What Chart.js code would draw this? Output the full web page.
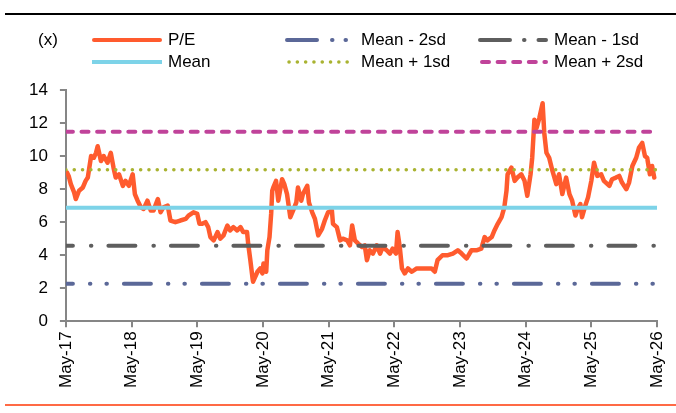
<!DOCTYPE html>
<html><head><meta charset="utf-8">
<script src="https://cdn.jsdelivr.net/npm/chart.js@4.4.1/dist/chart.umd.min.js"></script>
<style>
body{margin:0;background:#fff;font-family:"Liberation Sans",Arial,sans-serif;}
#wrap{position:relative;width:676px;height:413px;overflow:hidden;background:#fff;}
#c{position:absolute;left:0;top:0;}
.rule{position:absolute;left:5px;width:671px;}
.leg{position:absolute;font-size:17px;line-height:20px;color:#000;white-space:nowrap;}
.sw{position:absolute;}
</style></head>
<body>
<div id="wrap">
<canvas id="c" width="676" height="413"></canvas>
<div class="rule" style="top:13px;height:2px;background:#000;"></div>
<div class="rule" style="top:404px;height:2px;background:#FF6A45;"></div>
<div class="leg" style="left:38px;top:30px;">(x)</div>
<div id="legend"></div>
</div>
<script>
// ---- data ----
const tickLabels = ['May-17','May-18','May-19','May-20','May-21','May-22','May-23','May-24','May-25','May-26'];
const yTicks = [0, 2, 4, 6, 8, 10, 12, 14];
// months since May-17
const months = [0.2,0.5,0.9,1.5,1.8,2.4,3.1,3.6,4.0,4.6,5.1,5.5,5.8,6.4,6.9,7.6,8.2,8.7,9.1,9.7,10.4,10.9,11.5,12.2,12.6,13.1,13.7,14.2,14.9,15.5,16.0,16.8,17.3,17.8,18.6,19.1,20.0,20.9,21.9,22.4,23.3,24.0,24.4,24.9,25.5,26.0,26.4,27.0,27.7,28.2,28.8,29.5,30.0,30.6,31.3,31.9,32.4,33.1,33.3,33.7,34.1,34.2,35.0,35.5,35.9,36.1,36.6,36.8,37.2,37.5,37.7,37.9,38.4,38.8,39.5,39.9,40.4,41.0,41.5,42.1,42.4,43.0,43.3,44.1,44.4,45.0,45.5,46.1,46.8,47.3,47.9,48.6,48.8,49.5,50.1,50.6,51.4,51.9,52.3,52.8,53.4,54.1,54.6,55.0,55.5,56.1,56.8,57.4,57.9,58.6,59.2,59.7,60.3,60.6,61.0,61.4,61.9,62.5,63.2,64.1,65.0,65.9,66.8,67.4,67.9,68.8,69.8,70.7,71.6,72.3,73.2,74.1,75.0,75.9,76.5,77.0,77.8,78.3,78.9,79.6,80.1,80.5,80.7,81.4,82.0,82.5,83.2,83.8,84.3,84.9,85.2,85.6,86.0,86.5,87.1,87.4,87.8,88.3,88.9,89.6,90.1,90.7,91.4,92.0,92.5,93.1,93.5,94.0,94.3,94.9,95.4,96.0,96.5,97.1,97.8,98.3,99.3,99.8,100.5,101.1,101.6,102.4,102.9,103.5,104.2,104.7,105.3,105.8,106.2,106.7,107.1,107.5];
const pe = [9.0,8.8,8.3,7.8,7.4,7.9,8.1,8.5,8.7,10.0,9.9,10.2,10.6,9.7,10.0,9.6,10.2,9.3,8.7,8.9,8.2,8.5,8.2,8.9,7.7,7.3,6.9,6.8,7.3,6.7,6.7,7.4,6.6,6.9,7.0,6.1,6.0,6.1,6.2,6.4,6.6,6.5,5.9,5.9,6.0,5.7,5.1,4.9,5.4,5.0,5.2,5.8,5.5,5.7,5.5,5.7,5.4,5.4,4.7,3.7,2.6,2.4,3.0,3.2,2.9,3.5,3.0,4.3,5.1,6.5,7.9,8.1,8.5,7.3,8.6,8.3,7.7,6.3,6.7,7.2,8.1,7.3,7.7,8.2,7.2,6.6,6.2,5.2,5.6,6.1,6.6,6.7,5.9,5.7,4.9,5.0,4.9,4.6,5.8,4.9,4.7,4.5,4.6,3.7,4.3,4.1,4.6,4.1,4.5,4.3,4.1,4.4,4.1,5.4,4.5,3.2,2.9,3.2,3.0,3.2,3.2,3.2,3.2,3.0,3.7,4.0,4.0,4.1,4.3,4.1,3.8,4.3,4.3,4.4,5.1,4.9,5.1,5.5,5.9,6.3,6.9,7.9,8.9,9.3,8.5,8.7,8.9,8.5,7.6,8.9,9.9,12.2,11.7,12.3,13.2,11.4,10.2,9.9,9.1,8.3,8.9,7.7,8.7,7.7,7.3,6.4,6.8,7.1,6.3,7.0,7.5,8.5,9.6,8.8,8.9,8.5,8.2,8.6,8.7,8.8,8.4,8.0,8.4,9.4,9.9,10.5,10.8,10.0,9.9,8.9,9.4,8.7];
const bandLabels = ['Mean - 2sd','Mean - 1sd','Mean','Mean + 1sd','Mean + 2sd'];
const bandValues = [2.28, 4.58, 6.88, 9.18, 11.48];
const xRange = [0, 108];

// ---- styles ----
const peStyle = {label:'P/E', color:'#FF5B2E', width:4.5, dash:[], cap:'round'};
const bandStyles = [
  {color:'#5B6898', width:4, dash:[27,17,0.5,16,0.5,17], offset:20, cap:'round'},
  {color:'#5E5E5E', width:4, dash:[27,18,0.5,17], offset:20, cap:'round'},
  {color:'#7DD3E8', width:4, dash:[], offset:0, cap:'butt'},
  {color:'#A9B331', width:3.5, dash:[0.1,8.2], offset:0, cap:'round'},
  {color:'#C0439A', width:4, dash:[7,8.6], offset:0, cap:'round'}
];

const datasets = bandLabels.map((lab,i)=>({
  label: lab,
  data: xRange.map(x=>({x:x, y:bandValues[i]})),
  borderColor: bandStyles[i].color,
  borderWidth: bandStyles[i].width,
  borderDash: bandStyles[i].dash,
  borderDashOffset: bandStyles[i].offset,
  borderCapStyle: bandStyles[i].cap,
  pointRadius: 0, fill:false
}));
datasets.push({
  label: peStyle.label,
  data: months.map((m,i)=>({x:m, y:pe[i]})),
  borderColor: peStyle.color,
  borderWidth: peStyle.width,
  borderJoinStyle: 'round',
  borderCapStyle: 'round',
  pointRadius: 0, fill:false, tension:0
});

const axisCol = '#868686';
const tickFont = {family:'"Liberation Sans", Arial, sans-serif', size:17};
new Chart(document.getElementById('c'), {
  type:'line',
  data:{datasets},
  options:{
    responsive:false, animation:false, devicePixelRatio:1,
    layout:{padding:{left:17, right:19, top:90, bottom:21}},
    plugins:{legend:{display:false}, tooltip:{enabled:false}},
    scales:{
      x:{type:'linear', min:xRange[0], max:xRange[1],
         afterFit:(s)=>{s.paddingRight=0; s.paddingLeft=0;},
         border:{display:true,color:axisCol,width:2},
         grid:{drawOnChartArea:false, drawTicks:true, tickLength:6, color:axisCol, lineWidth:2},
         ticks:{stepSize:12, autoSkip:false, maxRotation:90, minRotation:90, color:'#000', font:tickFont, padding:4,
                callback:(v)=>tickLabels[Math.round(v/12)]}},
      y:{min:0, max:14,
         border:{display:true,color:axisCol,width:2},
         grid:{drawOnChartArea:false, drawTicks:true, tickLength:6, color:axisCol, lineWidth:2},
         afterBuildTicks:(s)=>{s.ticks = yTicks.map(v=>({value:v}));},
         ticks:{color:'#000', font:tickFont, padding:12}}
    }
  }
});

// ---- HTML legend with swatches ----
const legItems = [
  {label:'P/E', style:peStyle, x:92, y:30},
  {label:bandLabels[0], style:bandStyles[0], x:285, y:30},
  {label:bandLabels[1], style:bandStyles[1], x:478, y:30},
  {label:bandLabels[2], style:bandStyles[2], x:92, y:52},
  {label:bandLabels[3], style:bandStyles[3], x:285, y:52},
  {label:bandLabels[4], style:bandStyles[4], x:478, y:52}
];
const legDash = [[], [30,15,0.5,13,0.5,13], [30,14,0.5,14], [], [0.1,8.2], [7,8.6]];
const legOffset = [0,0,0,0,-2,-2];
const lg = document.getElementById('legend');
legItems.forEach((it,i)=>{
  const w=70, h=10;
  const svgNS='http://www.w3.org/2000/svg';
  const svg=document.createElementNS(svgNS,'svg');
  svg.setAttribute('width',w); svg.setAttribute('height',h);
  svg.setAttribute('class','sw');
  svg.style.left=it.x+'px'; svg.style.top=(it.y+5)+'px';
  const ln=document.createElementNS(svgNS,'line');
  const cap=it.style.cap||'butt';
  const pad = cap==='round'?2:0;
  ln.setAttribute('x1',pad); ln.setAttribute('x2',w-pad); ln.setAttribute('y1',h/2); ln.setAttribute('y2',h/2);
  ln.setAttribute('stroke',it.style.color); ln.setAttribute('stroke-width',Math.min(it.style.width,4));
  ln.setAttribute('stroke-linecap',cap);
  if(legDash[i].length) ln.setAttribute('stroke-dasharray',legDash[i].join(' '));
  ln.setAttribute('stroke-dashoffset',legOffset[i]);
  svg.appendChild(ln);
  lg.appendChild(svg);
  const t=document.createElement('div');
  t.className='leg'; t.textContent=it.label;
  t.style.left=(it.x+w+6)+'px'; t.style.top=it.y+'px';
  lg.appendChild(t);
});
</script>
</body></html>
